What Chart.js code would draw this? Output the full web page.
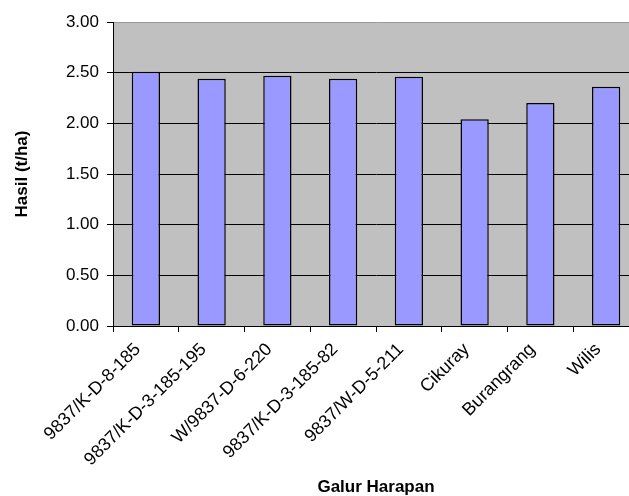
<!DOCTYPE html>
<html>
<head>
<meta charset="utf-8">
<script src="https://cdn.jsdelivr.net/npm/chart.js@4/dist/chart.umd.min.js"></script>
<style>
    html, body { margin: 0; padding: 0; background: #fff; overflow: hidden; }
    #wrap { width: 640px; height: 496px; }
</style>
</head>
<body>
<div id="wrap"><canvas id="barChart"></canvas></div>
<script>
// Chart data
const categories = ['9837/K-D-8-185', '9837/K-D-3-185-195', 'W/9837-D-6-220', '9837/K-D-3-185-82', '9837/W-D-5-211', 'Cikuray', 'Burangrang', 'Wilis'];
const hasil = [2.51, 2.44, 2.47, 2.44, 2.46, 2.04, 2.20, 2.36];
const yTicks = [0, 0.5, 1, 1.5, 2, 2.5, 3];

const fontFamily = '"Liberation Sans", Arial, sans-serif';

// Gray plot area background
const plotBackground = {
    id: 'plotBackground',
    beforeDraw(chart) {
        const { ctx, chartArea } = chart;
        ctx.save();
        ctx.fillStyle = '#C0C0C0';
        ctx.fillRect(chartArea.left, chartArea.top, chartArea.right - chartArea.left, chartArea.bottom - chartArea.top);
        ctx.restore();
    }
};

const ctx = document.getElementById('barChart').getContext('2d');
window.barChart = new Chart(ctx, {
    type: 'bar',
    data: {
        labels: categories,
        datasets: [{
            label: 'Hasil',
            data: hasil,
            backgroundColor: '#9999FF',
            borderColor: '#000000',
            borderWidth: 1.5,
            borderSkipped: false,
            barPercentage: 0.43,
            categoryPercentage: 1
        }]
    },
    options: {
        responsive: true,
        maintainAspectRatio: false,
        animation: false,
        layout: { padding: { top: 22, right: 1, left: 0, bottom: 0 } },
        plugins: {
            legend: { display: false },
            tooltip: { enabled: false }
        },
        scales: {
            x: {
                grid: {
                    offset: true,
                    drawOnChartArea: false,
                    drawTicks: true,
                    tickLength: 6,
                    color: '#000'
                },
                border: { color: '#000', width: 1 },
                ticks: {
                    color: '#000',
                    font: { family: fontFamily, size: 18 },
                    minRotation: 45,
                    maxRotation: 45,
                    autoSkip: false,
                    padding: 7,
                    labelOffset: -8
                },
                title: {
                    display: true,
                    text: 'Galur Harapan',
                    color: '#000',
                    font: { family: fontFamily, size: 17, weight: 'bold' },
                    padding: { top: 0, bottom: -2 }
                },
                afterFit: scale => { scale.height = 170; }
            },
            y: {
                min: 0,
                max: 3,
                afterBuildTicks: scale => { scale.ticks = yTicks.map(v => ({ value: v })); },
                grid: {
                    color: ctx => ctx.tick && ctx.tick.value === 3 ? '#9a9a9a' : '#000',
                    tickColor: '#000',
                    tickLength: 6
                },
                border: { color: '#000', width: 1 },
                ticks: {
                    color: '#000',
                    font: { family: fontFamily, size: 17 },
                    padding: 8,
                    callback: v => Number(v).toFixed(2)
                },
                title: {
                    display: true,
                    text: 'Hasil (t/ha)',
                    color: '#000',
                    font: { family: fontFamily, size: 17, weight: 'bold' },
                    padding: { top: 12, bottom: 0 }
                },
                afterFit: scale => { scale.width = 113; }
            }
        }
    },
    plugins: [plotBackground]
});
</script>
</body>
</html>
